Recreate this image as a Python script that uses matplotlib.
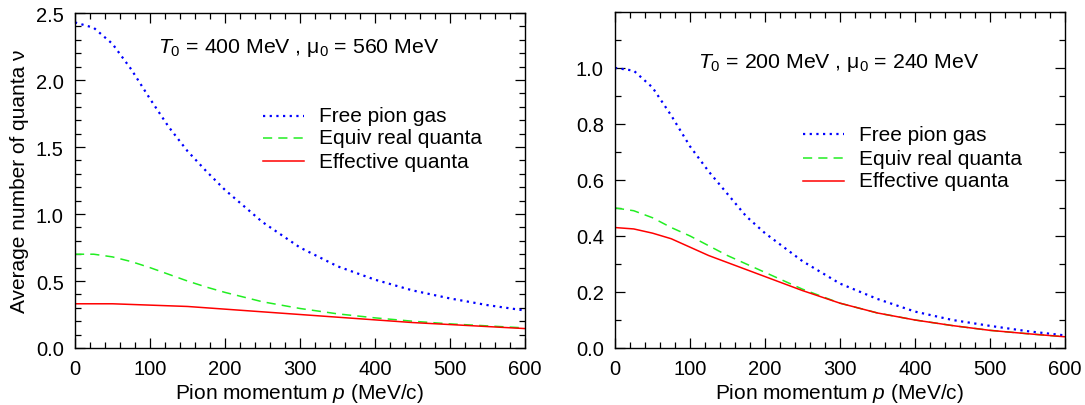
import matplotlib
matplotlib.use("Agg")
import matplotlib.pyplot as plt
from matplotlib.ticker import MultipleLocator, FormatStrFormatter

plt.rcParams['font.family'] = ['Liberation Sans', 'DejaVu Sans']
plt.rcParams['mathtext.fontset'] = 'custom'
plt.rcParams['mathtext.rm'] = 'Liberation Sans'
plt.rcParams['mathtext.it'] = 'Liberation Sans:italic'
plt.rcParams['mathtext.sf'] = 'Liberation Sans'

# pion momentum grid (MeV/c)
momentum = [0, 25, 50, 75, 100, 125, 150, 175, 200, 250, 300, 350, 400, 450, 500, 550, 600]

# T0 = 400 MeV, mu0 = 560 MeV
free_400 = [2.43, 2.39, 2.27, 2.08, 1.86, 1.65, 1.47, 1.32, 1.18, 0.94, 0.75, 0.61, 0.51, 0.43, 0.37, 0.32, 0.28]
equiv_400 = [0.70, 0.70, 0.68, 0.645, 0.60, 0.55, 0.50, 0.455, 0.415, 0.345, 0.295, 0.255, 0.225, 0.20, 0.18, 0.165, 0.15]
eff_400 = [0.33, 0.33, 0.33, 0.325, 0.32, 0.315, 0.31, 0.30, 0.29, 0.27, 0.25, 0.23, 0.21, 0.19, 0.175, 0.16, 0.145]

# T0 = 200 MeV, mu0 = 240 MeV
free_200 = [1.00, 0.99, 0.93, 0.83, 0.72, 0.63, 0.55, 0.47, 0.41, 0.31, 0.23, 0.175, 0.13, 0.10, 0.079, 0.06, 0.045]
equiv_200 = [0.50, 0.49, 0.465, 0.43, 0.40, 0.365, 0.33, 0.30, 0.27, 0.21, 0.16, 0.125, 0.10, 0.08, 0.063, 0.051, 0.04]
eff_200 = [0.43, 0.425, 0.41, 0.39, 0.36, 0.33, 0.305, 0.28, 0.255, 0.205, 0.16, 0.125, 0.10, 0.08, 0.063, 0.051, 0.04]

labels = ["Free pion gas", "Equiv real quanta", "Effective quanta"]
titles = [r"$T_0$ = 400 MeV , $\mathrm{\mu}_0$ = 560 MeV",
          r"$T_0$ = 200 MeV , $\mathrm{\mu}_0$ = 240 MeV"]

styles = [dict(color='#0000ff', lw=1.6, linestyle=(0, (1, 2.0)), dash_capstyle='butt'),
          dict(color='#22ee22', lw=1.1, linestyle=(0, (6, 4))),
          dict(color='#ff0000', lw=1.1, linestyle='-')]

fig = plt.figure(figsize=(10.85, 4.06), dpi=100)
ax1 = fig.add_axes([0.0691, 0.1404, 0.4147, 0.825])
ax2 = fig.add_axes([0.5668, 0.1404, 0.4147, 0.828])


def draw_panel(ax, curves, title, ymax, ymajor, legend_rows, title_y):
    for vals, st in zip(curves, styles):
        ax.plot(momentum, vals, **st)
    ax.set_xlim(0, 600)
    ax.set_ylim(0, ymax)
    ax.xaxis.set_major_locator(MultipleLocator(100))
    ax.xaxis.set_minor_locator(MultipleLocator(20))
    ax.yaxis.set_major_locator(MultipleLocator(ymajor))
    ax.yaxis.set_minor_locator(MultipleLocator(0.1))
    ax.yaxis.set_major_formatter(FormatStrFormatter('%.1f'))
    ax.tick_params(which='both', direction='in', top=True, right=True,
                   labelsize=14.5, width=0.9)
    ax.tick_params(which='major', length=7.5, pad=8)
    ax.tick_params(which='minor', length=4.5)
    for sp in ax.spines.values():
        sp.set_linewidth(1.0)
    ax.set_xlabel(r"Pion momentum $p$ (MeV/c)", fontsize=15, labelpad=2)
    ax.text(0.498, title_y, title, transform=ax.transAxes, ha='center',
            va='center', fontsize=15.3)
    # key: short line samples with labels beside them
    for y, lab, st in zip(legend_rows, labels, styles):
        ax.plot([0.418, 0.510], [y, y], transform=ax.transAxes, clip_on=False, **st)
        ax.text(0.543, y, lab, transform=ax.transAxes, ha='left', va='center',
                fontsize=15)


draw_panel(ax1, [free_400, equiv_400, eff_400], titles[0], 2.5, 0.5,
           [0.694, 0.627, 0.558], 0.90)
ax1.set_ylabel("Average number of quanta ν", fontsize=15, labelpad=5)

draw_panel(ax2, [free_200, equiv_200, eff_200], titles[1], 1.2, 0.2,
           [0.636, 0.564, 0.497], 0.85)
ax2.set_yticks([0, 0.2, 0.4, 0.6, 0.8, 1.0])

fig.savefig("out.png", dpi=100)
